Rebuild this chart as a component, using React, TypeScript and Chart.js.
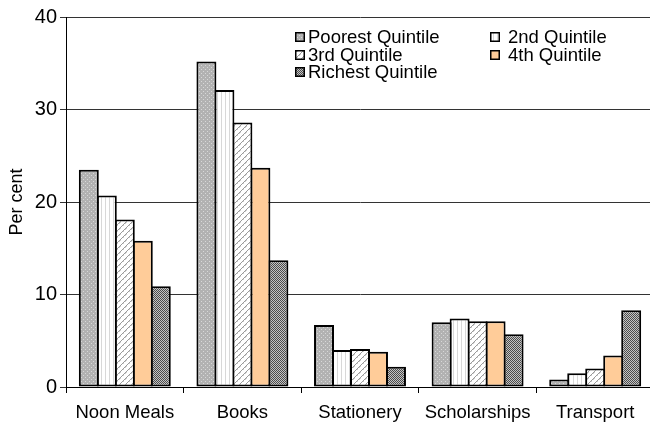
import React, { useEffect, useRef } from "react";
import { Chart, registerables } from "chart.js";

Chart.register(...registerables);

const categories = ["Noon Meals", "Books", "Stationery", "Scholarships", "Transport"];
const seriesLabels = ["Poorest Quintile", "2nd Quintile", "3rd Quintile", "4th Quintile", "Richest Quintile"];
const poorest = [23.5, 35.2, 6.7, 7.0, 0.8];
const second = [20.7, 32.1, 4.0, 7.4, 1.5];
const third = [18.1, 28.6, 4.1, 7.1, 2.0];
const fourth = [15.8, 23.7, 3.8, 7.1, 3.4];
const richest = [10.9, 13.7, 2.2, 5.7, 8.3];
const yTicks = [0, 10, 20, 30, 40];

const FONT = "'Liberation Sans', Arial, sans-serif";

type Kind = "dots" | "vlines" | "hatch" | "solid" | "check";

function makeFill(kind: Kind): CanvasPattern | string {
  if (kind === "solid") return "#FFCC99";
  const tile = document.createElement("canvas");
  const c = tile.getContext("2d")!;
  if (kind === "dots") {
    tile.width = 4; tile.height = 4;
    c.fillStyle = "#b2b2b2"; c.fillRect(0, 0, 4, 4);
    c.fillStyle = "#d8d8d8"; c.fillRect(1, 1, 1, 1); c.fillRect(3, 3, 1, 1);
  } else if (kind === "vlines") {
    tile.width = 4; tile.height = 1;
    c.fillStyle = "#ffffff"; c.fillRect(0, 0, 4, 1);
    c.fillStyle = "#d8d8d8"; c.fillRect(1, 0, 1, 1);
  } else if (kind === "hatch") {
    // short diagonal dashes on white
    tile.width = 6; tile.height = 6;
    c.fillStyle = "#ffffff"; c.fillRect(0, 0, 6, 6);
    c.fillStyle = "#9a9a9a";
    c.fillRect(5, 0, 1, 1); c.fillRect(4, 1, 1, 1); c.fillRect(3, 2, 1, 1);
    c.fillRect(2, 3, 1, 1); c.fillRect(1, 4, 1, 1); c.fillRect(0, 5, 1, 1);
    c.fillStyle = "#cfcfcf";
    c.fillRect(0, 0, 1, 1); c.fillRect(5, 1, 1, 1); c.fillRect(3, 3, 1, 1);
  } else {
    tile.width = 2; tile.height = 2;
    c.fillStyle = "#c4c4c4"; c.fillRect(0, 0, 2, 2);
    c.fillStyle = "#4c4c4c"; c.fillRect(0, 0, 1, 1); c.fillRect(1, 1, 1, 1);
  }
  const p = c.createPattern(tile, "repeat");
  return p ?? "#999";
}

const quintileLegend = {
  id: "quintileLegend",
  afterDraw(chart: any) {
    const ctx = chart.ctx as CanvasRenderingContext2D;
    const cols = [295, 490];
    const rows = [37, 55, 72];
    ctx.save();
    ctx.font = `18.5px ${FONT}`;
    ctx.textBaseline = "middle";
    ctx.textAlign = "left";
    chart.data.datasets.forEach((ds: any, i: number) => {
      const x = cols[i % 2];
      const y = rows[Math.floor(i / 2)];
      ctx.fillStyle = ds.backgroundColor;
      ctx.fillRect(x, y - 5, 10, 10);
      ctx.strokeStyle = "#000";
      ctx.lineWidth = 1.5;
      ctx.strokeRect(x + 0.75, y - 4.25, 8.5, 8.5);
      ctx.fillStyle = "#000";
      ctx.fillText(ds.label, x + (i % 2 === 0 ? 13 : 18), y + 1);
    });
    ctx.restore();
  },
};

export default function App() {
  const ref = useRef<HTMLCanvasElement>(null);

  useEffect(() => {
    if (!ref.current) return;
    const kinds: Kind[] = ["dots", "vlines", "hatch", "solid", "check"];
    const values = [poorest, second, third, fourth, richest];
    const chart = new Chart(ref.current, {
      type: "bar",
      data: {
        labels: categories,
        datasets: values.map((v, i) => ({
          label: seriesLabels[i],
          data: v,
          backgroundColor: makeFill(kinds[i]) as any,
          borderColor: "#000",
          borderWidth: 2,
          borderSkipped: false,
          categoryPercentage: 0.765,
          barPercentage: 1.11,
        })),
      },
      options: {
        responsive: false,
        animation: false,
        devicePixelRatio: 1,
        layout: { padding: { top: 17, left: 0, right: 6, bottom: 0 } },
        plugins: { legend: { display: false }, tooltip: { enabled: false } },
        scales: {
          x: {
            afterFit: (s: any) => { s.height = 42; },
            grid: { offset: true, drawOnChartArea: false, drawTicks: true, tickLength: 6, color: "#000" },
            border: { display: true, color: "#000", width: 1 },
            ticks: { color: "#000", font: { family: FONT, size: 18.5 }, padding: 9, maxRotation: 0 },
          },
          y: {
            min: 0,
            max: 40,
            afterFit: (s: any) => { s.width = 66; },
            afterBuildTicks: (s: any) => { s.ticks = yTicks.map((v) => ({ value: v })); },
            grid: { color: "#333", tickLength: 6, lineWidth: 1 },
            border: { display: true, color: "#000", width: 1 },
            ticks: { color: "#000", font: { family: FONT, size: 20 }, padding: 3 },
            title: { display: true, text: "Per cent", color: "#000", font: { family: FONT, size: 18 }, padding: { top: 6, bottom: 0 } },
          },
        },
      },
      plugins: [quintileLegend],
    });
    return () => chart.destroy();
  }, []);

  return (
    <div style={{ position: "absolute", left: 0, top: 0, width: 650, height: 429, overflow: "hidden", background: "#fff" }}>
      <canvas ref={ref} width={660} height={429} />
    </div>
  );
}
